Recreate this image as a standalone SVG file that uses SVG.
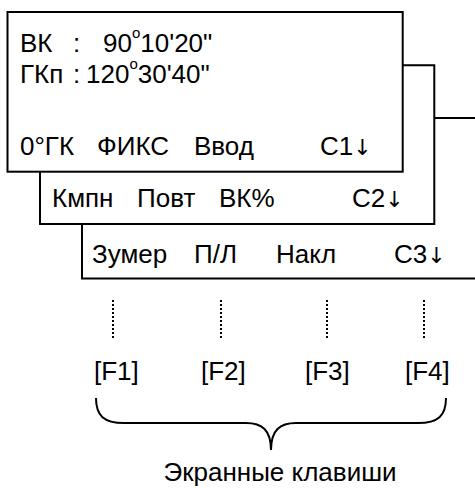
<svg xmlns="http://www.w3.org/2000/svg" width="475" height="488" viewBox="0 0 475 488">
<style>
text{font-family:"Liberation Sans",Arial,sans-serif;font-size:26px;fill:#000}
.ar{font-family:"DejaVu Sans",sans-serif;font-size:22px}
.ln{fill:none;stroke:#000;stroke-width:2}
.dot{fill:none;stroke:#000;stroke-width:2;stroke-dasharray:2 2}
.sup{font-size:15px}
</style>
<rect width="475" height="488" fill="#fff"/>
<g id="screen3">
<path class="ln" d="M82,224V278.5H475M434,118H475"/>
<text y="263"><tspan x="92">Зумер</tspan><tspan x="194">П/Л</tspan><tspan x="276">Накл</tspan><tspan x="394">С3</tspan><tspan class="ar">↓</tspan></text>
</g>
<g id="screen2">
<path class="ln" d="M40,172V224H434.3V65.3H403"/>
<text y="207"><tspan x="52">Кмпн</tspan><tspan x="137">Повт</tspan><tspan x="219">ВК%</tspan><tspan x="352">С2</tspan><tspan class="ar">↓</tspan></text>
</g>
<g id="screen1">
<rect class="ln" x="7.5" y="12" width="395.2" height="159.7"/>
<text y="52"><tspan x="20">ВК</tspan><tspan x="73">:</tspan><tspan x="103">90</tspan><tspan class="sup" dy="-14">o</tspan><tspan dy="14">10'20"</tspan></text>
<text y="83"><tspan x="20">ГКп</tspan><tspan x="73">:</tspan><tspan x="86">120</tspan><tspan class="sup" dy="-14">o</tspan><tspan dy="14">30'40"</tspan></text>
<text y="155"><tspan x="20">0°ГК</tspan><tspan x="97">ФИКС</tspan><tspan x="194">Ввод</tspan><tspan x="320">С1</tspan><tspan class="ar">↓</tspan></text>
</g>
<g id="connectors">
<path class="dot" d="M113,300V340M221,300V340M327,300V340M424,300V340"/>
</g>
<g id="keys">
<text y="380"><tspan x="94">[F1]</tspan><tspan x="201">[F2]</tspan><tspan x="305">[F3]</tspan><tspan x="405">[F4]</tspan></text>
</g>
<g id="brace">
<path class="ln" d="M96,398C96,416 104,423 124,423H246C262,423 271,430 271,450C271,430 280,423 296,423H418C438,423 446,416 446,398"/>
<text x="280" y="481" text-anchor="middle">Экранные клавиши</text>
</g>
</svg>
